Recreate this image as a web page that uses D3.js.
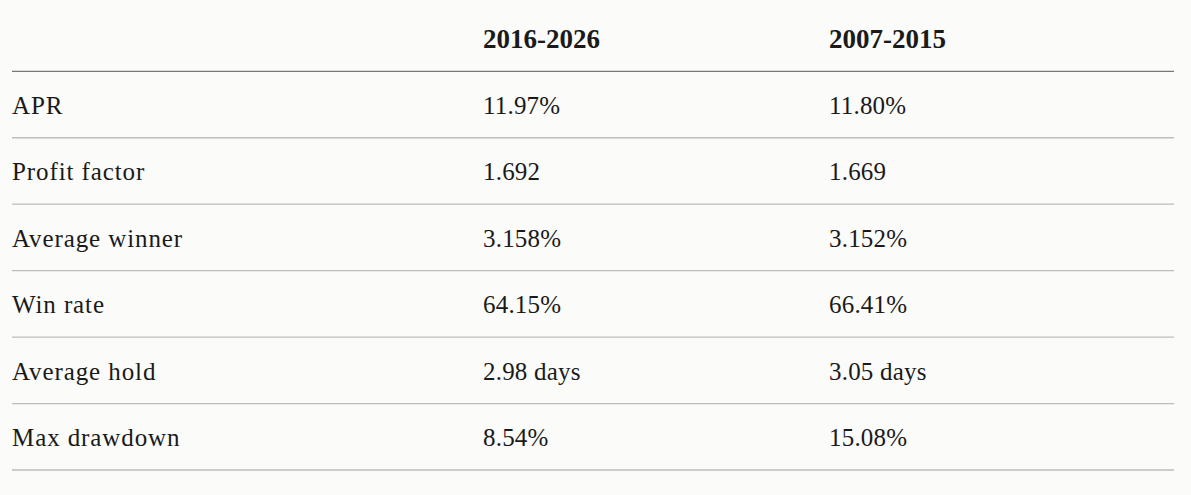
<!DOCTYPE html>
<html>
<head>
<meta charset="utf-8">
<script src="https://cdn.jsdelivr.net/npm/d3@7"></script>
<style>
  html, body { margin: 0; padding: 0; background: #fbfbf9; }
  svg { display: block; }
</style>
</head>
<body>
<div id="viz_table"></div>
<script>
// constants
const width = 1191
const height = 495
const margin = {left: 12, right: 17}
const header_bottom = 71.3
const table_bottom = 470
const font_family = '"Liberation Serif", "Times New Roman", serif'
const font_size = 25
const text_color = '#1a1a1a'

// data
const columns = ['2016-2026', '2007-2015']
const metrics = ['APR', 'Profit factor', 'Average winner', 'Win rate', 'Average hold', 'Max drawdown']
const values_recent = ['11.97%', '1.692', '3.158%', '64.15%', '2.98 days', '8.54%']
const values_older = ['11.80%', '1.669', '3.152%', '66.41%', '3.05 days', '15.08%']

const rows = metrics.map((m, i) => ({metric: m, cells: [values_recent[i], values_older[i]]}))

const svg = d3.select('#viz_table')
    .append('svg')
        .attr('width', width)
        .attr('height', height)

// column positions: label column, then the two period columns
const x = d3.scaleOrdinal()
    .domain(['label'].concat(columns))
    .range([margin.left, 483, 829])

const y = d3.scaleBand()
    .domain(metrics)
    .range([header_bottom, table_bottom])

// header
svg.append('g')
    .selectAll('text')
    .data(columns)
    .join('text')
        .attr('x', d => x(d))
        .attr('y', 38.5)
        .attr('dominant-baseline', 'central')
        .attr('font-family', font_family)
        .attr('font-size', 27)
        .attr('font-weight', 'bold')
        .attr('fill', text_color)
        .text(d => d)

svg.append('line')
    .attr('x1', margin.left)
    .attr('x2', width - margin.right)
    .attr('y1', header_bottom)
    .attr('y2', header_bottom)
    .attr('stroke', '#787878')
    .attr('stroke-width', 1.3)

// body rows
const row = svg.append('g')
    .selectAll('g')
    .data(rows)
    .join('g')
        .attr('transform', d => `translate(0, ${y(d.metric)})`)

row.append('text')
    .attr('x', x('label'))
    .attr('y', y.bandwidth() / 2 + 1)
    .attr('dominant-baseline', 'central')
    .attr('font-family', font_family)
    .attr('font-size', font_size)
    .attr('letter-spacing', 0.9)
    .attr('fill', text_color)
    .text(d => d.metric)

row.selectAll('text.cell')
    .data(d => d.cells)
    .join('text')
        .attr('class', 'cell')
        .attr('x', (d, i) => x(columns[i]))
        .attr('y', y.bandwidth() / 2 + 1)
        .attr('dominant-baseline', 'central')
        .attr('font-family', font_family)
        .attr('font-size', font_size)
        .attr('letter-spacing', 0.2)
        .attr('fill', text_color)
        .text(d => d)

row.append('line')
    .attr('x1', margin.left)
    .attr('x2', width - margin.right)
    .attr('y1', y.bandwidth())
    .attr('y2', y.bandwidth())
    .attr('stroke', '#bdbdbb')
    .attr('stroke-width', 1.3)
</script>
</body>
</html>
